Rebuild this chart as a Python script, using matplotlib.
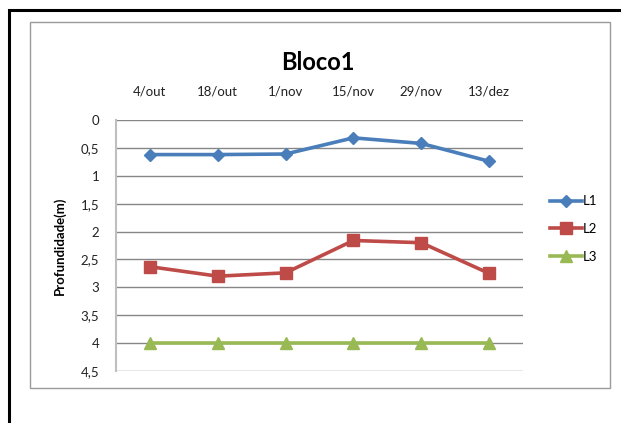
import matplotlib
matplotlib.use("Agg")
import matplotlib.pyplot as plt
from matplotlib.patches import Rectangle
from matplotlib.ticker import FuncFormatter

plt.rcParams['font.family'] = ['Lato', 'DejaVu Sans']

dates = ["4/out", "18/out", "1/nov", "15/nov", "29/nov", "13/dez"]
l1 = [0.62, 0.62, 0.61, 0.32, 0.42, 0.74]
l2 = [2.63, 2.80, 2.74, 2.16, 2.20, 2.75]
l3 = [4.0, 4.0, 4.0, 4.0, 4.0, 4.0]
y_ticks = [0, 0.5, 1, 1.5, 2, 2.5, 3, 3.5, 4, 4.5]

W, H = 621, 423
fig = plt.figure(figsize=(W / 100, H / 100), dpi=100)

def fx(px):
    return px / W

def fy(py):
    return 1 - py / H

# outer black frame and chart-area frame
fig.patches.append(Rectangle((fx(9), fy(440)), fx(640), fy(10) - fy(440), transform=fig.transFigure,
                             fill=False, edgecolor='black', linewidth=2.2))
fig.patches.append(Rectangle((fx(30), fy(388)), fx(580), fy(22) - fy(388), transform=fig.transFigure,
                             fill=False, edgecolor='#9a9a9a', linewidth=1.0))

ax = fig.add_axes([fx(116), fy(371), fx(523) - fx(116), fy(120) - fy(371)])
x = list(range(len(dates)))

ax.plot(x, l1, color='#4A7EBB', linewidth=2.6, marker='D', markersize=6.5, label='L1')
ax.plot(x, l2, color='#BE4B48', linewidth=2.6, marker='s', markersize=8.5, label='L2')
ax.plot(x, l3, color='#98B954', linewidth=2.6, marker='^', markersize=8, label='L3')

ax.set_xlim(-0.5, len(dates) - 0.5)
ax.set_ylim(4.5, 0)
ax.set_yticks(y_ticks)
ax.yaxis.set_major_formatter(FuncFormatter(lambda v, p: f"{v:g}".replace('.', ',')))
ax.set_xticks(x)
ax.set_xticklabels(dates)
ax.xaxis.tick_top()
ax.tick_params(axis='x', length=0, pad=16, labelsize=9.5, colors='#222222')
ax.tick_params(axis='y', length=0, pad=12, labelsize=9.5, colors='#222222')
for lbl in ax.get_yticklabels():
    lbl.set_horizontalalignment('right')

ax.grid(axis='y', color='#868686', linewidth=1.0)
ax.set_axisbelow(True)
for s in ['top', 'right', 'bottom']:
    ax.spines[s].set_visible(False)
ax.spines['left'].set_color('#bfbfbf')
ax.spines['left'].set_linewidth(1.5)

ax.set_ylabel("Profundidade(m)", fontsize=9.5, fontweight='bold', labelpad=11)

fig.text(fx(318), fy(63), "Bloco1", ha='center', va='center', fontsize=17, fontweight='bold')

leg = fig.legend(loc='center left', bbox_to_anchor=(fx(538), fy(229)), frameon=False,
                 fontsize=9.5, handlelength=2.4, handletextpad=0.1, labelspacing=1.2)

fig.savefig("out.png", dpi=100)
